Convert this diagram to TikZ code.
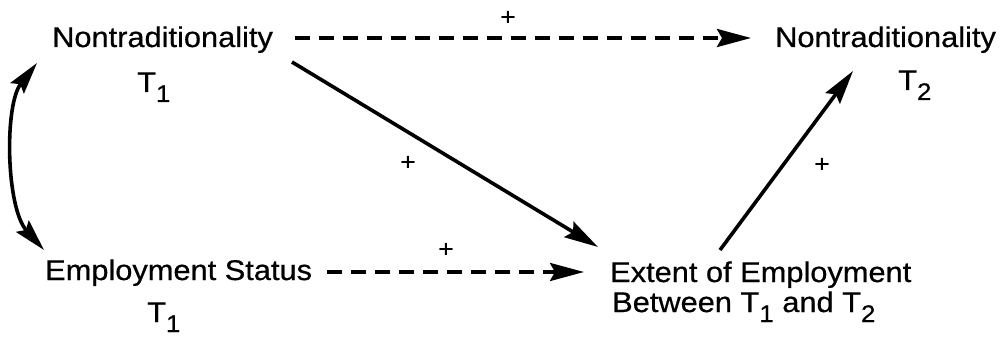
\documentclass[tikz,border=0pt]{standalone}
\usepackage{fontspec}
\setmainfont{Liberation Sans}[FakeStretch=1.08,FakeBold=0.6]
\usetikzlibrary{arrows.meta}
\newcommand\subn[1]{\raisebox{-10pt}{\fontsize{24}{24}\selectfont #1}}
\begin{document}
\begin{tikzpicture}[x=1pt,y=-1pt,
  lab/.style={inner sep=0pt, anchor=base west, font=\fontsize{28.5}{30}\selectfont},
  plus/.style={inner sep=0pt, font=\fontsize{24}{24}\selectfont},
  tip/.style={Stealth[length=34pt,width=18pt,inset=5pt]},
  conn/.style={line width=3.6pt, -{Stealth[length=34pt,width=18pt,inset=5pt]}},
  dashconn/.style={conn, dash pattern=on 15pt off 9pt},
  both/.style={line width=3.6pt, {Stealth[length=32pt,width=17pt,inset=5pt]}-{Stealth[length=32pt,width=17pt,inset=5pt]}}
]
\useasboundingbox (0,0) rectangle (1001,339);
% nodes
\node[lab] (n1) at (52,47) {Nontraditionality};
\node[lab] (n1t) at (137,92) {T\subn{1}};
\node[lab] (n2) at (775,47) {Nontraditionality};
\node[lab] (n2t) at (898,90) {T\subn{2}};
\node[lab] (es) at (45,280) {Employment Status};
\node[lab] (est) at (147,322) {T\subn{1}};
\node[lab] (ext) at (610,282) {Extent of Employment};
\node[lab] (extb) at (612,312) {Between T\subn{1} and T\subn{2}};
% connectors
\draw[dashconn] ([shift={(243,-9)}]n1.base west) -- ([shift={(-24,-9)}]n2.base west);
\node[plus] (p1) at (508,18) {+};
\draw[conn] ([shift={(240,15)}]n1.base west) -- ([shift={(-12,-35)}]ext.base west);
\node[plus] (p2) at (408,163) {+};
\draw[dashconn] ([shift={(282,-8)}]es.base west) -- ([shift={(-26,-10)}]ext.base west);
\node[plus] (p3) at (446,250) {+};
\draw[conn] ([shift={(110,-32)}]ext.base west) -- ([shift={(78,24)}]n2.base west);
\node[plus] (p4) at (822,165) {+};
\draw[both] ([shift={(-15,16)}]n1.base west) .. controls (4,105) and (6,208) .. ([shift={(-1,-30)}]es.base west);
\end{tikzpicture}
\end{document}
